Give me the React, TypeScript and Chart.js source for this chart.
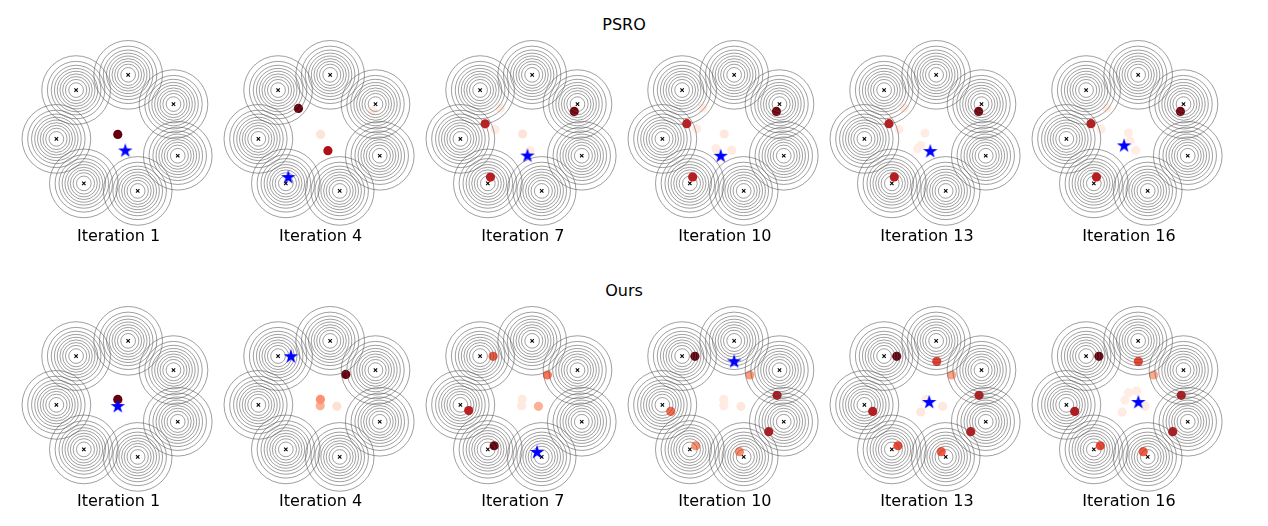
import React, { useEffect, useRef } from "react";
import { Chart, registerables } from "chart.js";

Chart.register(...registerables);

// ---------- data ----------
const rowTitles = ["PSRO", "Ours"];
const iterations = [1, 4, 7, 10, 13, 16];

// centres of the seven Gaussian modes (data units)
const modeX = [0.45, 2.68, 2.89, 0.92, -1.73, -3.08, -2.11];
const modeY = [2.91, 1.47, -1.07, -2.8, -2.43, -0.24, 2.16];
// contour ring radii around each mode (data units)
const ringRadii = [1.689, 1.412, 1.221, 1.066, 0.926, 0.796, 0.665, 0.526, 0.361];

// population points: [x, y, weight 0..1 on the Reds colormap]
const psroIter1 = [[-0.06, -0.02, 1.0]];
const psroIter4 = [[2.55, 1.16, 0.05], [-0.02, -0.02, 0.1], [0.34, -0.82, 0.85], [-1.11, 1.26, 1.0]];
const psroIter7 = [[-1.12, 1.27, 0.05], [-1.37, 0.22, 0.06], [-0.02, 0.0, 0.1], [0.35, -0.81, 0.05], [-1.86, 0.5, 0.75], [-1.6, -2.12, 0.77], [2.52, 1.11, 0.97]];
const psroIter10 = [[-1.11, 1.28, 0.05], [-1.39, 0.26, 0.05], [-0.04, 0.0, 0.08], [0.33, -0.8, 0.06], [-0.45, -0.72, 0.05], [-1.88, 0.51, 0.75], [-1.59, -2.11, 0.77], [2.53, 1.11, 0.97]];
const psroIter13 = [[-1.13, 1.28, 0.05], [-1.38, 0.23, 0.05], [-0.1, 0.05, 0.05], [-0.3, -0.57, 0.05], [-0.46, -0.72, 0.05], [-1.87, 0.51, 0.77], [-1.61, -2.11, 0.77], [2.54, 1.11, 0.97]];
const psroIter16 = [[-1.1, 1.27, 0.05], [-1.37, 0.23, 0.05], [-0.03, 0.05, 0.05], [0.33, -0.8, 0.05], [0.05, -0.35, 0.05], [-1.87, 0.51, 0.77], [-1.6, -2.11, 0.77], [2.53, 1.11, 0.97]];

const oursIter1 = [[-0.04, -0.02, 0.2], [-0.06, 0.03, 1.0]];
const oursIter4 = [[0.78, -0.31, 0.12], [-0.04, -0.28, 0.28], [-0.03, 0.03, 0.38], [1.22, 1.26, 1.0]];
const oursIter7 = [[-0.04, 0.03, 0.07], [-0.07, -0.28, 0.07], [0.76, -0.31, 0.28], [1.2, 1.23, 0.47], [-1.47, 2.15, 0.55], [-2.67, -0.52, 0.75], [-1.42, -2.25, 1.0]];
const oursIter10 = [[-0.06, 0.03, 0.06], [-0.06, -0.28, 0.06], [0.78, -0.31, 0.08], [1.22, 1.23, 0.35], [-1.44, -2.25, 0.38], [0.71, -2.54, 0.4], [-2.67, -0.56, 0.5], [2.15, -1.56, 0.8], [2.56, 0.23, 0.82], [-1.48, 2.15, 1.0]];
const oursIter13 = [[-0.05, 0.03, 0.05], [-0.31, -0.59, 0.08], [0.77, -0.31, 0.08], [1.21, 1.23, 0.32], [0.7, -2.54, 0.55], [-1.43, -2.25, 0.6], [0.48, 1.9, 0.62], [2.56, 0.23, 0.78], [2.15, -1.56, 0.78], [-2.67, -0.56, 0.78], [-1.49, 2.15, 1.0]];
const oursIter16 = [[-0.03, 0.36, 0.05], [0.38, 0.44, 0.05], [-0.2, 0.0, 0.05], [-0.33, -0.6, 0.06], [0.79, -0.31, 0.06], [1.21, 1.23, 0.3], [0.7, -2.54, 0.55], [-1.41, -2.25, 0.6], [0.46, 1.9, 0.6], [2.57, 0.23, 0.8], [2.15, -1.56, 0.8], [-2.67, -0.56, 0.8], [-1.48, 2.15, 1.0]];

// meta-strategy (blue star) positions
const psroStars = [[0.31, -0.81], [-1.61, -2.12], [0.22, -1.06], [-0.21, -1.07], [0.16, -0.84], [-0.24, -0.56]];
const oursStars = [[-0.06, -0.3], [-1.48, 2.15], [0.69, -2.56], [0.45, 1.9], [0.11, -0.1], [0.46, -0.1]];

const psroPanels = [psroIter1, psroIter4, psroIter7, psroIter10, psroIter13, psroIter16];
const oursPanels = [oursIter1, oursIter4, oursIter7, oursIter10, oursIter13, oursIter16];

// ---------- layout / style ----------
const COL_CX = [118.6, 320.6, 522.8, 724.9, 927, 1129];
const ROW_CY = [133.7, 399.7];
const LABEL_TOP = [226, 491];
const TITLE_TOP = [15, 281];
const TITLE_CX = 624;
const PANEL = 200;
const PX_PER_UNIT = 20.33;
const HALF = PANEL / 2 / PX_PER_UNIT;
const FONT = '"DejaVu Sans", sans-serif';

const REDS = ["#fff5f0", "#fee0d2", "#fcbba1", "#fc9272", "#fb6a4a", "#ef3b2c", "#cb181d", "#a50f15", "#67000d"];
function hexToRgb(h: string) {
  return [parseInt(h.slice(1, 3), 16), parseInt(h.slice(3, 5), 16), parseInt(h.slice(5, 7), 16)];
}
function reds(v: number) {
  const t = Math.max(0, Math.min(1, v)) * (REDS.length - 1);
  const i = Math.min(REDS.length - 2, Math.floor(t));
  const f = t - i;
  const a = hexToRgb(REDS[i]);
  const b = hexToRgb(REDS[i + 1]);
  const c = a.map((ai, k) => Math.round(ai + (b[k] - ai) * f));
  return `rgb(${c[0]},${c[1]},${c[2]})`;
}

let starImg: HTMLCanvasElement | null = null;
function getStar() {
  if (starImg) return starImg;
  const c = document.createElement("canvas");
  c.width = 18;
  c.height = 18;
  const g = c.getContext("2d")!;
  const R = 7.6;
  const r = R * 0.382;
  g.beginPath();
  for (let i = 0; i < 10; i++) {
    const a = -Math.PI / 2 + (i * Math.PI) / 5;
    const rad = i % 2 === 0 ? R : r;
    const px = 9 + rad * Math.cos(a);
    const py = 9.3 + rad * Math.sin(a);
    if (i === 0) g.moveTo(px, py);
    else g.lineTo(px, py);
  }
  g.closePath();
  g.fillStyle = "#0000ff";
  g.fill();
  starImg = c;
  return c;
}

const ringPlugin = {
  id: "rings",
  afterDatasetDraw(chart: any, args: any) {
    if (args.index !== 2) return;
    const xs = chart.scales.x;
    const ys = chart.scales.y;
    const ctx = chart.ctx;
    ctx.save();
    ctx.strokeStyle = "rgba(80,80,80,0.55)";
    ctx.lineWidth = 1;
    modeX.forEach((mx, i) => {
      const px = xs.getPixelForValue(mx);
      const py = ys.getPixelForValue(modeY[i]);
      ringRadii.forEach((r) => {
        const rp = xs.getPixelForValue(mx + r) - px;
        ctx.beginPath();
        ctx.arc(px, py, rp, 0, Math.PI * 2);
        ctx.stroke();
      });
    });
    ctx.restore();
  },
};

function Panel({ points, star, cx, cy }: { points: number[][]; star: number[]; cx: number; cy: number }) {
  const ref = useRef<HTMLCanvasElement>(null);
  useEffect(() => {
    const chart = new Chart(ref.current!, {
      type: "scatter",
      data: {
        datasets: [
          {
            data: [{ x: star[0], y: star[1] }],
            pointStyle: getStar() as any,
            pointRadius: 7,
            clip: false as any,
          },
          {
            data: modeX.map((x, i) => ({ x, y: modeY[i] })),
            pointStyle: "crossRot",
            pointRadius: 2.4,
            borderColor: "#000",
            backgroundColor: "#000",
            borderWidth: 1.1,
            clip: false as any,
          },
          {
            data: points.map((p) => ({ x: p[0], y: p[1] })),
            backgroundColor: points.map((p) => reds(p[2])),
            borderWidth: 0,
            pointRadius: 4.6,
            clip: false as any,
          },
        ],
      },
      options: {
        animation: false,
        responsive: false,
        devicePixelRatio: 1,
        events: [],
        layout: { padding: 0, autoPadding: false },
        plugins: { legend: { display: false }, tooltip: { enabled: false }, title: { display: false } },
        scales: {
          x: { type: "linear", min: -HALF, max: HALF, display: false },
          y: { type: "linear", min: -HALF, max: HALF, display: false },
        },
      },
      plugins: [ringPlugin],
    });
    return () => chart.destroy();
  }, []);
  return (
    <canvas
      ref={ref}
      width={PANEL}
      height={PANEL}
      style={{ position: "absolute", left: Math.round(cx - PANEL / 2), top: Math.round(cy - PANEL / 2), width: PANEL, height: PANEL }}
    />
  );
}

export default function App() {
  const rows = [psroPanels, oursPanels];
  const stars = [psroStars, oursStars];
  return (
    <div style={{ position: "absolute", left: 0, top: 0, width: 1268, height: 526, background: "#fff", overflow: "hidden" }}>
      {rowTitles.map((t, r) => (
        <div
          key={"t" + r}
          style={{ position: "absolute", left: TITLE_CX - 100, top: TITLE_TOP[r], width: 200, textAlign: "center", font: `16px ${FONT}`, lineHeight: "20px", color: "#000" }}
        >
          {t}
        </div>
      ))}
      {rows.map((panels, r) =>
        panels.map((pts, c) => (
          <React.Fragment key={`p${r}-${c}`}>
            <Panel points={pts} star={stars[r][c]} cx={COL_CX[c]} cy={ROW_CY[r]} />
            <div
              style={{ position: "absolute", left: COL_CX[c] - 100, top: LABEL_TOP[r], width: 200, textAlign: "center", font: `16px ${FONT}`, lineHeight: "20px", color: "#000" }}
            >
              {`Iteration ${iterations[c]}`}
            </div>
          </React.Fragment>
        ))
      )}
    </div>
  );
}
